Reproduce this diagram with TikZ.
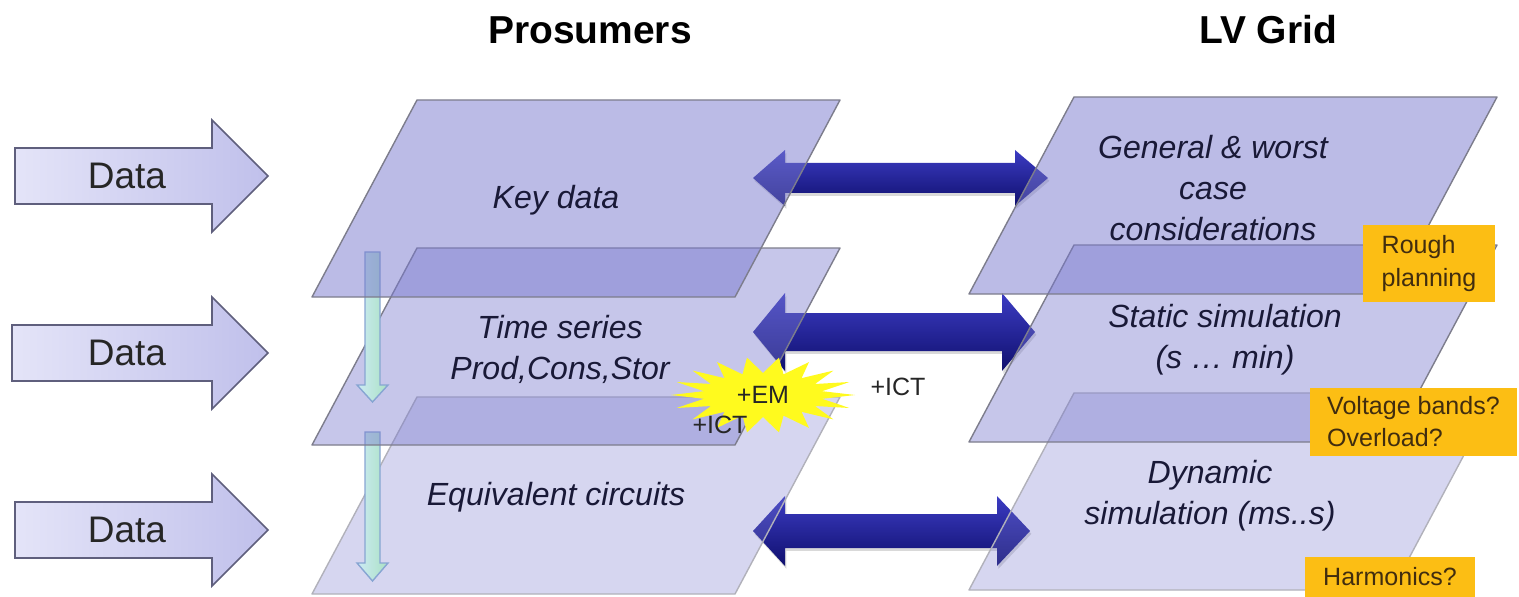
\documentclass[tikz,border=0pt]{standalone}
\usepackage{fontspec}
\setmainfont{Liberation Sans}
\usepackage{tikz}
\usetikzlibrary{shadows}

\definecolor{planecol}{RGB}{120,120,205}
\definecolor{planeedge}{RGB}{125,125,140}
\definecolor{arrowtop}{RGB}{60,60,195}
\definecolor{arrowbot}{RGB}{15,15,110}
\definecolor{datatop}{RGB}{228,228,248}
\definecolor{databot}{RGB}{192,192,235}
\definecolor{dataedge}{RGB}{95,95,125}
\definecolor{notecol}{RGB}{252,190,20}
\definecolor{notetext}{RGB}{65,45,15}
\definecolor{planetextcol}{RGB}{25,25,55}
\definecolor{downleft}{RGB}{205,235,245}
\definecolor{downright}{RGB}{170,225,195}
\definecolor{downedge}{RGB}{135,165,210}
\definecolor{burstcol}{RGB}{255,250,30}

\newcommand{\headfont}{\fontsize{27.7}{32}\selectfont\bfseries}
\newcommand{\datafont}{\fontsize{26.3}{30}\selectfont}
\newcommand{\planefont}{\fontsize{22.8}{29.2}\selectfont\itshape}
\newcommand{\notefont}{\fontsize{17.8}{22.8}\selectfont}

\begin{document}
\begin{tikzpicture}[x=0.025cm,y=-0.025cm]
\tikzstyle{planebox}=[draw=planeedge,line width=1pt,fill=planecol,line join=round]
\tikzstyle{blockarrow}=[top color=arrowtop,bottom color=arrowbot,draw=none,
  drop shadow={opacity=0.3,shadow xshift=1pt,shadow yshift=-2pt}]
\tikzstyle{dataarrow}=[left color=datatop,right color=databot,draw=dataedge,line width=1.1pt]
\tikzstyle{downarrow}=[left color=downleft,right color=downright,draw=downedge,line width=1pt]
\tikzstyle{planetext}=[font=\planefont,text=planetextcol,align=center,inner sep=0pt]
\tikzstyle{headtext}=[font=\headfont,inner sep=0pt]
\tikzstyle{datatext}=[font=\datafont,text=black!85,inner sep=0pt]
\tikzstyle{notebox}=[fill=notecol,font=\notefont,text=notetext,align=left,inner sep=0pt]
\tikzstyle{startext}=[font=\notefont,text=black!85,inner sep=0pt]
\useasboundingbox (0,0) rectangle (1519,597);

% arrows between the two columns
\foreach \yc/\xr/\s/\h in {178/1048/15/28, 332/1035/19/39, 531/1030/17/35}
  \draw[blockarrow] (753,\yc) -- ++(32,-\h) -- ++(0,\h-\s) -- (\xr-33,\yc-\s)
    -- ++(0,\s-\h) -- (\xr,\yc) -- ++(-33,\h) -- ++(0,\s-\h) -- (785,\yc+\s)
    -- ++(0,\h-\s) -- cycle;

% lowest layers
\draw[planebox,fill opacity=0.3,draw=planeedge!60] (417,397) -- (840,397) -- (735,594) -- (312,594) -- cycle;
\draw[planebox,fill opacity=0.3,draw=planeedge!60] (1074,393) -- (1497,393) -- (1392,590) -- (969,590) -- cycle;
\draw[downarrow] (365,432) -- (380,432) -- (380,563) -- (388,563) -- (372.5,581) -- (357,563) -- (365,563) -- cycle;

% middle layers
\draw[planebox,fill opacity=0.42] (417,248) -- (840,248) -- (735,445) -- (312,445) -- cycle;
\draw[planebox,fill opacity=0.42] (1074,245) -- (1497,245) -- (1392,442) -- (969,442) -- cycle;
\draw[downarrow] (365,252) -- (380,252) -- (380,385) -- (388,385) -- (372.5,402) -- (357,385) -- (365,385) -- cycle;

% top layers
\draw[planebox,fill opacity=0.5] (417,100) -- (840,100) -- (735,297) -- (312,297) -- cycle;
\draw[planebox,fill opacity=0.5] (1074,97) -- (1497,97) -- (1392,294) -- (969,294) -- cycle;

\node[headtext] (pros) at (590,30) {Prosumers};
\node[headtext] (lvgrid) at (1268,30) {LV Grid};

\node[planetext] (keydata) at (556,200) {Key data};
\node[planetext] (timeser) at (560,349) {Time series\\Prod,Cons,Stor};
\node[planetext] (equiv) at (556,497) {Equivalent circuits};
\node[planetext] (general) at (1213,188) {General \& worst\\case\\considerations};
\node[planetext] (static) at (1225,340) {Static simulation\\(s … min)};
\node[planetext] (dynamic) at (1210,496) {Dynamic\\simulation (ms..s)};

% data inputs
\foreach \yc/\xs/\n in {176/15/1, 353/12/2, 530/15/3} {
  \draw[dataarrow] (\xs,\yc-28) -- (212,\yc-28) -- (212,\yc-56) -- (268,\yc)
    -- (212,\yc+56) -- (212,\yc+28) -- (\xs,\yc+28) -- cycle;
  \node[datatext] (data\n) at (127,\yc) {Data};
}

% burst
\fill[burstcol] plot[samples at={0,...,35}]
  ({763+(76+16*cos(180*\x))*cos(\x*10)},{395+(30+8*cos(180*\x))*sin(\x*10)}) -- cycle;
\node[startext] (em) at (763,395) {+EM};
\node[startext] (ictin) at (720,425) {+ICT};
\node[startext] (ictout) at (898,387) {+ICT};

% remarks
\node[notebox,minimum width=3.3cm,minimum height=1.925cm] (rough) at (1429,263.5) {Rough\\planning};
\node[notebox,minimum width=5.175cm,minimum height=1.7cm] (volt) at (1413.5,422) {Voltage bands?\\Overload?};
\node[notebox,minimum width=4.25cm,minimum height=1cm] (harm) at (1390,577) {Harmonics?};
\end{tikzpicture}
\end{document}
